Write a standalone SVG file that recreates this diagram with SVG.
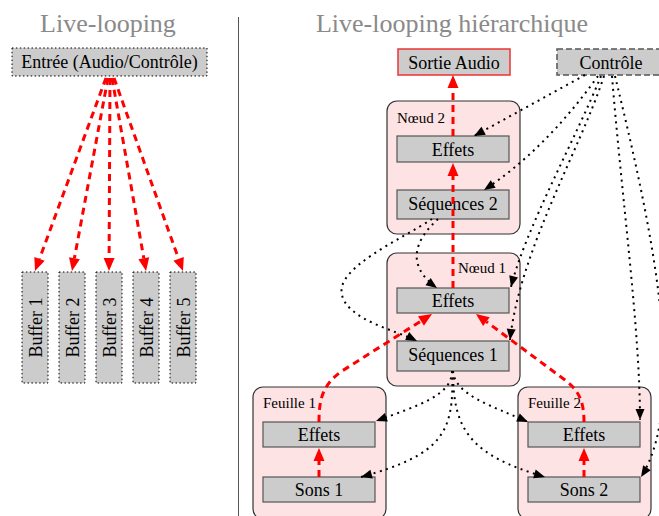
<svg xmlns="http://www.w3.org/2000/svg" width="659" height="516" viewBox="0 0 659 516">
<style>
text{font-family:"Liberation Serif","Times New Roman",serif;fill:#000}
.title{font-size:26px;fill:#8a8a8a;text-anchor:middle}
.lbl{font-size:18px;text-anchor:middle}
.small{font-size:15px}
.box{fill:#cccccc;stroke:#555;stroke-width:1.2}
.dotbox{fill:#cccccc;stroke:#000;stroke-width:1;stroke-dasharray:1.5 2.4}
.cont{fill:#fde3e3;stroke:#333;stroke-width:1.2}
.red{fill:none;stroke:#ff0000;stroke-width:3;stroke-dasharray:7 5;marker-end:url(#ar)}
.dot{fill:none;stroke:#000;stroke-width:2;stroke-dasharray:2 4.5;marker-end:url(#ak)}
</style>
<defs>
<marker id="ar" markerUnits="userSpaceOnUse" markerWidth="14" markerHeight="12" refX="0" refY="5.5" orient="auto" overflow="visible"><path d="M0,0 L13,5.5 L0,11 z" fill="#ff0000"/></marker>
<marker id="ak" markerUnits="userSpaceOnUse" markerWidth="12" markerHeight="10" refX="11" refY="4.5" orient="auto" overflow="visible"><path d="M0,0 L11,4.5 L0,9 z" fill="#000"/></marker>
</defs>
<rect width="659" height="516" fill="#fff"/>
<text class="title" x="108" y="32">Live-looping</text>
<text class="title" x="452" y="32">Live-looping hiérarchique</text>
<line x1="238.5" y1="17" x2="238.5" y2="516" stroke="#555" stroke-width="1"/>

<g id="entree"><rect class="dotbox" x="12" y="48" width="195" height="28"/><text class="lbl" x="109.5" y="68">Entrée (Audio/Contrôle)</text></g>
<g id="buffer1"><rect class="dotbox" x="22" y="272" width="26" height="111"/><text class="lbl" transform="translate(42,327.5) rotate(-90)">Buffer 1</text></g>
<g id="buffer2"><rect class="dotbox" x="59" y="272" width="26" height="111"/><text class="lbl" transform="translate(79,327.5) rotate(-90)">Buffer 2</text></g>
<g id="buffer3"><rect class="dotbox" x="96" y="272" width="26" height="111"/><text class="lbl" transform="translate(116,327.5) rotate(-90)">Buffer 3</text></g>
<g id="buffer4"><rect class="dotbox" x="133" y="272" width="26" height="111"/><text class="lbl" transform="translate(153,327.5) rotate(-90)">Buffer 4</text></g>
<g id="buffer5"><rect class="dotbox" x="170" y="272" width="26" height="111"/><text class="lbl" transform="translate(190,327.5) rotate(-90)">Buffer 5</text></g>

<g id="sortie"><rect x="398" y="49" width="112" height="26" fill="#cccccc" stroke="#ee3333" stroke-width="1.5"/><text class="lbl" x="454" y="69">Sortie Audio</text></g>
<g id="controle"><rect x="557" y="49" width="110" height="26" fill="#cccccc" stroke="#555" stroke-width="1.5" stroke-dasharray="6 3"/><text class="lbl" x="611" y="69">Contrôle</text></g>

<g id="noeud2"><rect class="cont" x="387" y="101" width="133" height="133" rx="10"/><text class="small" x="397" y="123">Nœud 2</text>
<g id="n2-effets"><rect class="box" x="397" y="136" width="112" height="26"/><text class="lbl" x="453" y="155.5">Effets</text></g>
<g id="n2-seq"><rect class="box" x="397" y="190" width="112" height="29"/><text class="lbl" x="453" y="210">Séquences 2</text></g></g>

<g id="noeud1"><rect class="cont" x="387" y="253" width="133" height="133" rx="10"/><text class="small" x="458" y="273">Nœud 1</text>
<g id="n1-effets"><rect class="box" x="397" y="288" width="112" height="25"/><text class="lbl" x="453" y="306.5">Effets</text></g>
<g id="n1-seq"><rect class="box" x="397" y="341" width="112" height="30"/><text class="lbl" x="453" y="361">Séquences 1</text></g></g>

<g id="feuille1"><rect class="cont" x="253" y="387" width="133" height="132" rx="10"/><text class="small" x="263" y="408">Feuille 1</text>
<g id="f1-effets"><rect class="box" x="263" y="422" width="112" height="25"/><text class="lbl" x="319" y="440.5">Effets</text></g>
<g id="f1-sons"><rect class="box" x="263" y="477" width="112" height="25"/><text class="lbl" x="319" y="495.5">Sons 1</text></g></g>

<g id="feuille2"><rect class="cont" x="518" y="387" width="133" height="132" rx="10"/><text class="small" x="528" y="408">Feuille 2</text>
<g id="f2-effets"><rect class="box" x="528" y="422" width="112" height="25"/><text class="lbl" x="584" y="440.5">Effets</text></g>
<g id="f2-sons"><rect class="box" x="528" y="477" width="112" height="25"/><text class="lbl" x="584" y="495.5">Sons 2</text></g></g>

<g id="connectors">
<path class="red" d="M106,78 L39.5,258.8"/>
<path class="red" d="M108,78 L74.4,258.2"/>
<path class="red" d="M110,78 L109.1,258"/>
<path class="red" d="M112,78 L143.8,258.2"/>
<path class="red" d="M114,78 L178.6,258.8"/>

<path class="red" d="M453,136 L453,88"/>
<path class="red" d="M453,288 L453,176"/>
<path class="red" d="M319,477 L319,461"/>
<path class="red" d="M319,422 C319,400 322,385 342,371 L421,321"/>
<path class="red" d="M584,477 L584,461"/>
<path class="red" d="M584,422 C584,400 578,390 565,380 L486.4,321.7"/>

<path class="dot" d="M585,75 L474,136"/>
<path class="dot" d="M598,76 Q545,150 484,190"/>
<path class="dot" d="M601,76 C575,140 525,230 511,287"/>
<path class="dot" d="M604,76 C580,150 520,250 510,340"/>
<path class="dot" d="M612,76 C622,200 640,330 640,420"/>
<path class="dot" d="M615,76 C650,220 690,400 641,477"/>

<path class="dot" d="M432,219 C400,240 335,268 342,295 C348,320 395,330 417,341"/>
<path class="dot" d="M438,219 C415,240 405,265 437,288"/>

<path class="dot" d="M452,371 C452,395 420,405 376,421"/>
<path class="dot" d="M452,371 C455,435 440,455 361,477"/>
<path class="dot" d="M453,371 C455,395 490,405 528,422"/>
<path class="dot" d="M453,371 C453,430 470,455 545,477"/>
</g>
</svg>
